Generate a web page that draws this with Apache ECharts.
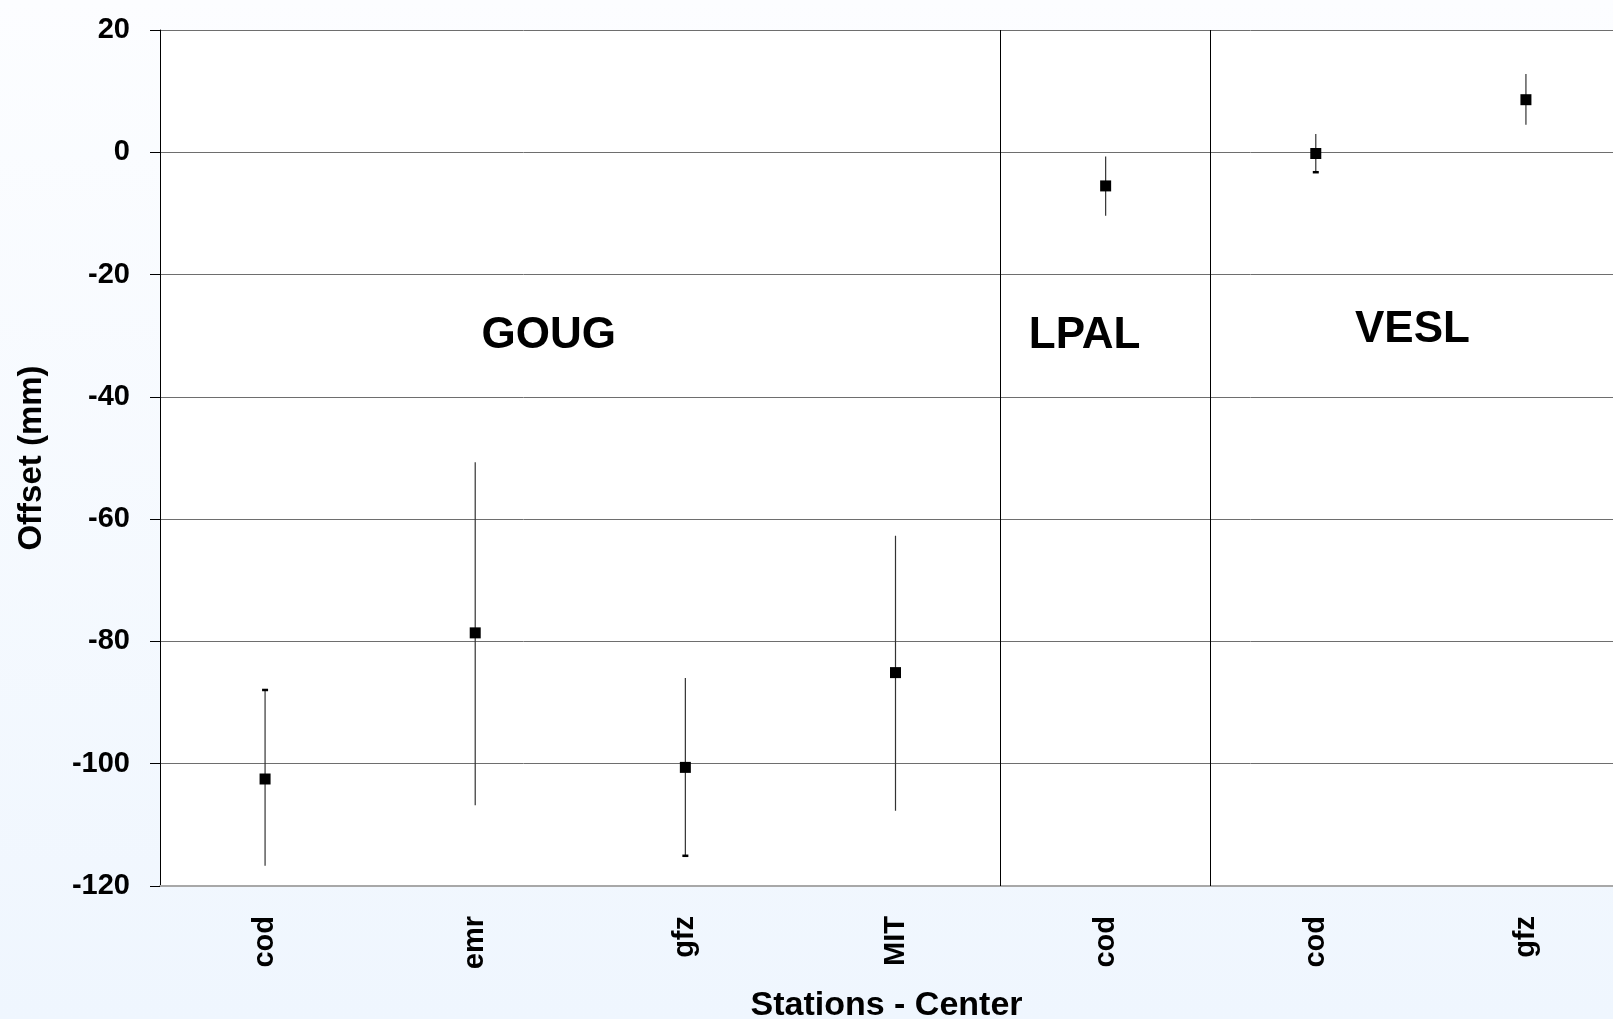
<!DOCTYPE html>
<html>
<head>
<meta charset="utf-8">
<script src="https://cdn.jsdelivr.net/npm/echarts@6/dist/echarts.min.js"></script>
<style>
html,body{margin:0;padding:0;width:1613px;height:1019px;overflow:hidden;}
#chart{width:1613px;height:1019px;}
</style>
</head>
<body>
<div id="chart"></div>
<script>
// ---- data ----
var stations = ['GOUG', 'GOUG', 'GOUG', 'GOUG', 'LPAL', 'VESL', 'VESL'];
var centers  = ['cod', 'emr', 'gfz', 'MIT', 'cod', 'cod', 'gfz'];
var offsets  = [-102.5, -78.6, -100.6, -85.1, -5.5, -0.2, 8.6];
var lowerErr = [-116.7, -106.8, -115.1, -107.7, -10.4, -3.3, 4.5];
var upperErr = [-87.9, -50.7, -86.0, -62.7, -0.7, 3.0, 12.8];
var capTop    = [true, false, false, false, false, false, false];
var capBottom = [false, false, true, false, false, true, false];
var groupNames = ['GOUG', 'LPAL', 'VESL'];
var yTicks = [-120, -100, -80, -60, -40, -20, 0, 20];

var FONT = "'Liberation Sans', Arial, Helvetica, sans-serif";
var categories = stations.map(function (s, i) { return s + '-' + centers[i]; });

var chart = echarts.init(document.getElementById('chart'), null, {renderer: 'canvas'});

var option = {
  animation: false,
  backgroundColor: {
    type: 'linear', x: 0, y: 0, x2: 0, y2: 1,
    colorStops: [{offset: 0, color: '#fcfdff'}, {offset: 1, color: '#eff6fe'}]
  },
  grid: {
    left: 160, top: 30, right: -18, bottom: 133,
    containLabel: false,
    outerBoundsMode: 'none',
    show: true, backgroundColor: '#ffffff', borderWidth: 0
  },
  xAxis: [{
    type: 'category',
    data: categories,
    boundaryGap: true,
    name: 'Stations - Center',
    nameLocation: 'middle',
    nameGap: 103,
    nameTextStyle: {fontFamily: FONT, fontWeight: 'bold', fontSize: 34, color: '#000', padding: [0, 18, 0, 0]},
    axisLine: {show: true, onZero: false, lineStyle: {color: '#a8a8a8', width: 2}},
    axisTick: {show: false},
    splitLine: {show: false},
    axisLabel: {
      rotate: 90, margin: 30, interval: 0,
      fontFamily: FONT, fontWeight: 'bold', fontSize: 29, color: '#000',
      formatter: function (v, i) { return centers[i]; }
    }
  }, {
    type: 'value', min: -0.5, max: 6.5, show: false,
    axisLine: {onZero: false}
  }],
  yAxis: {
    type: 'value',
    min: yTicks[0], max: yTicks[yTicks.length - 1], interval: 20,
    name: 'Offset (mm)',
    nameLocation: 'middle',
    nameGap: 112,
    nameTextStyle: {fontFamily: FONT, fontWeight: 'bold', fontSize: 33, color: '#000'},
    axisLine: {show: true, onZero: false, lineStyle: {color: '#000', width: 1}},
    axisTick: {show: true, length: 10, lineStyle: {color: '#000', width: 1}},
    splitLine: {show: true, lineStyle: {color: '#6e6e6e', width: 1}},
    axisLabel: {margin: 30, fontFamily: FONT, fontWeight: 'bold', fontSize: 29, color: '#000'}
  },
  series: [{
    type: 'custom',
    name: 'error',
    xAxisIndex: 0,
    data: categories.map(function (c, i) { return [i, lowerErr[i], upperErr[i]]; }),
    encode: {x: 0, y: [1, 2]},
    z: 2,
    renderItem: function (params, api) {
      var i = api.value(0);
      var lo = api.coord([i, api.value(1)]);
      var hi = api.coord([i, api.value(2)]);
      var ch = [{
        type: 'line',
        shape: {x1: lo[0], y1: lo[1], x2: hi[0], y2: hi[1]},
        style: {stroke: '#333', lineWidth: 1.2}
      }];
      if (capTop[i]) ch.push({type: 'rect', shape: {x: hi[0] - 3, y: hi[1] - 1, width: 6, height: 2.5}, style: {fill: '#000'}});
      if (capBottom[i]) ch.push({type: 'rect', shape: {x: lo[0] - 3, y: lo[1] - 1.5, width: 6, height: 2.5}, style: {fill: '#000'}});
      return {type: 'group', children: ch};
    }
  }, {
    type: 'scatter',
    name: 'offset',
    xAxisIndex: 0,
    data: categories.map(function (c, i) { return [i, offsets[i]]; }),
    symbol: 'rect',
    symbolSize: 11,
    itemStyle: {color: '#000', opacity: 1},
    z: 3
  }, {
    type: 'scatter',
    name: 'groups',
    xAxisIndex: 1,
    symbolSize: 0,
    silent: true,
    itemStyle: {opacity: 1},
    data: [
      {value: [1.35, -30.0], name: groupNames[0]},
      {value: [3.9, -30.1], name: groupNames[1]},
      {value: [5.46, -29.1], name: groupNames[2]}
    ],
    label: {
      show: true, position: 'inside', opacity: 1,
      formatter: function (p) { return p.name; },
      fontFamily: FONT, fontWeight: 'bold', fontSize: 44, color: '#000',
      textBorderWidth: 0
    },
    markLine: {
      silent: true,
      symbol: 'none',
      label: {show: false},
      lineStyle: {color: '#000', width: 1, type: 'solid', opacity: 1},
      data: [{xAxis: 3.5}, {xAxis: 4.5}]
    },
    z: 4
  }]
};
chart.setOption(option);
</script>
</body>
</html>
